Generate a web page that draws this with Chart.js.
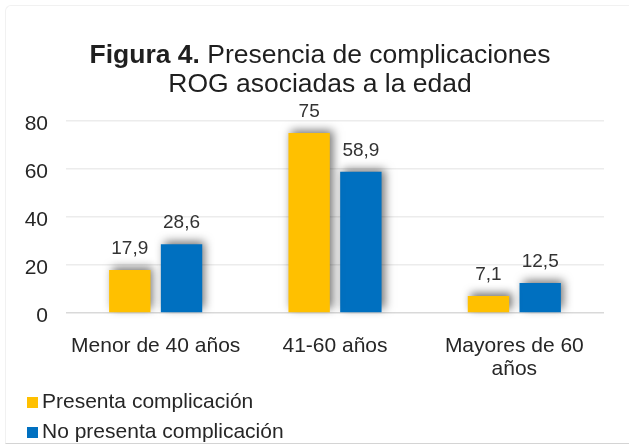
<!DOCTYPE html>
<html lang="es">
<head>
<meta charset="utf-8">
<title>Figura 4</title>
<script src="https://cdn.jsdelivr.net/npm/chart.js@4.4.1/dist/chart.umd.min.js"></script>
<style>
    html, body { margin: 0; padding: 0; background: #fff; }
    body { font-family: "Liberation Sans", Arial, sans-serif; color: #262626; }
    #wrap { position: relative; width: 629px; height: 445px; overflow: hidden; }
    #frame {
        position: absolute; left: 5px; top: 5px; width: 640px; height: 437px;
        border-top: 1px solid #f1f1f1; border-left: 1px solid #f1f1f1;
        border-bottom: 1px solid #d4d4d4; border-top-left-radius: 6px;
    }
    #chart { position: absolute; left: 0; top: 0; }
    #title {
        position: absolute; left: 0; width: 640px; top: 40px;
        text-align: center; font-size: 26.5px; line-height: 28.5px; color: #1f1f1f;
    }
    #legend { position: absolute; left: 27px; top: 386px; font-size: 21px; line-height: 30px; }
    #legend .item { position: relative; padding-left: 15px; white-space: nowrap; }
    #legend .box { position: absolute; left: 0; top: 11px; width: 11px; height: 11px; }
</style>
</head>
<body>
<div id="wrap">
    <div id="frame"></div>
    <canvas id="chart" width="629" height="445"></canvas>
    <div id="title"><b>Figura 4.</b> Presencia de complicaciones<br>ROG asociadas a la edad</div>
    <div id="legend"></div>
</div>
<script>
// data
const categories = [['Menor de 40 años'], ['41-60 años'], ['Mayores de 60', 'años']];
const seriesNames = ['Presenta complicación', 'No presenta complicación'];
const presenta = [17.9, 75, 7.1];
const noPresenta = [28.6, 58.9, 12.5];
const seriesColors = ['#FFC000', '#0070C0'];
const yTicks = [0, 20, 40, 60, 80];

document.addEventListener('DOMContentLoaded', function () {
    const ctx = document.getElementById('chart').getContext('2d');

    // soft drop shadow behind the bars
    const barShadow = {
        id: 'barShadow',
        beforeDatasetsDraw(chart) {
            const c = chart.ctx;
            c.save();
            c.shadowColor = 'rgba(0,0,0,0.55)';
            c.shadowBlur = 9;
            c.shadowOffsetX = 3;
            c.shadowOffsetY = -3;
        },
        afterDatasetsDraw(chart) {
            chart.ctx.restore();
        }
    };

    // value above each bar, decimal comma
    const valueLabels = {
        id: 'valueLabels',
        afterDraw(chart) {
            const c = chart.ctx;
            c.save();
            c.font = '19px "Liberation Sans", Arial, sans-serif';
            c.fillStyle = '#333';
            c.textAlign = 'center';
            c.textBaseline = 'alphabetic';
            chart.data.datasets.forEach((ds, i) => {
                chart.getDatasetMeta(i).data.forEach((bar, j) => {
                    const txt = String(ds.data[j]).replace('.', ',');
                    c.fillText(txt, bar.x, bar.y - 16);
                });
            });
            c.restore();
        }
    };

    const chart = new Chart(ctx, {
        type: 'bar',
        data: {
            labels: categories,
            datasets: [{
                label: seriesNames[0],
                data: presenta,
                backgroundColor: seriesColors[0],
            }, {
                label: seriesNames[1],
                data: noPresenta,
                backgroundColor: seriesColors[1],
            }]
        },
        options: {
            responsive: false,
            animation: false,
            events: [],
            categoryPercentage: 0.577,
            barPercentage: 0.8,
            layout: { padding: { top: 121, right: 25, bottom: 42, left: 0 } },
            plugins: {
                legend: { display: false },
                title: { display: false },
                tooltip: { enabled: false }
            },
            datasets: { bar: { clip: false } },
            scales: {
                x: {
                    grid: { display: false },
                    border: { display: false },
                    ticks: {
                        color: '#262626',
                        padding: 14,
                        maxRotation: 0,
                        font: { family: '"Liberation Sans", Arial, sans-serif', size: 21, lineHeight: 1.08 }
                    },
                    afterFit(scale) { scale.height = 90; }
                },
                y: {
                    min: yTicks[0],
                    max: yTicks[yTicks.length - 1],
                    afterBuildTicks(scale) { scale.ticks = yTicks.map(v => ({ value: v })); },
                    grid: {
                        drawTicks: false,
                        lineWidth: 1.5,
                        color: c => (c.tick && c.tick.value === 0) ? '#d9d9d9' : '#ececec'
                    },
                    border: { display: false },
                    ticks: {
                        color: '#262626',
                        padding: 18,
                        labelOffset: 3,
                        font: { family: '"Liberation Sans", Arial, sans-serif', size: 21 }
                    },
                    afterFit(scale) { scale.width = 66; }
                }
            }
        },
        plugins: [barShadow, valueLabels]
    });

    // legend stacked at bottom left
    const legend = document.getElementById('legend');
    chart.data.datasets.forEach(ds => {
        const item = document.createElement('div');
        item.className = 'item';
        const box = document.createElement('span');
        box.className = 'box';
        box.style.background = ds.backgroundColor;
        item.appendChild(box);
        item.appendChild(document.createTextNode(ds.label));
        legend.appendChild(item);
    });
});
</script>
</body>
</html>
